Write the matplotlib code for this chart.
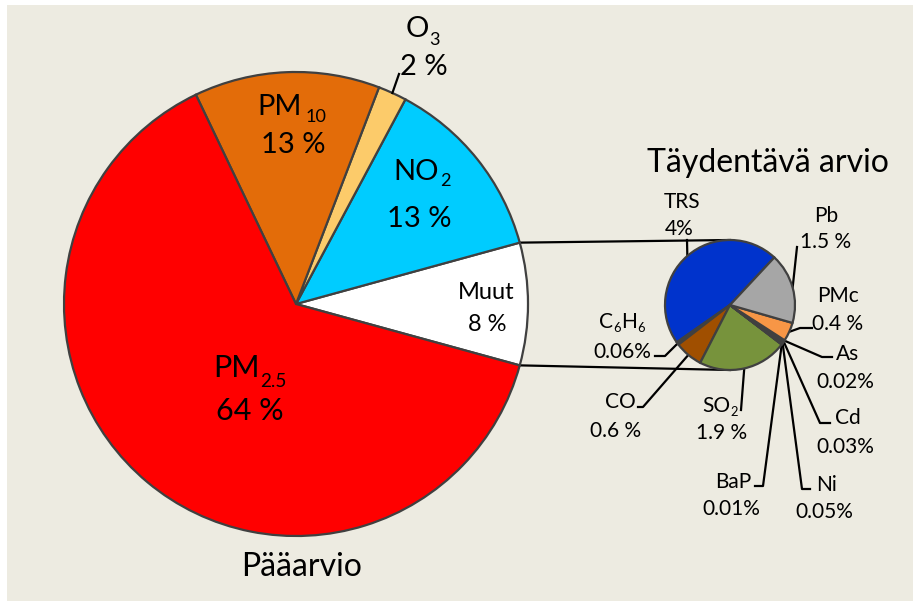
import re
import numpy as np
import matplotlib.pyplot as plt
from matplotlib.patches import Rectangle

plt.rcParams['font.family'] = ['Lato', 'DejaVu Sans']

W, H = 913, 601

# main pie (Pääarvio)
main_names = ['Muut', 'NO_2', 'O_3', 'PM_10', 'PM_2.5']
main_values = [8.57, 13, 2, 13, 64]
main_pct = ['8 %', '13 %', '2 %', '13 %', '64 %']
main_colors = ['#FFFFFF', '#00CCFF', '#FCCB6A', '#E36C09', '#FF0000']

# detail pie (Täydentävä arvio), split of "Muut"
det_names = ['TRS', 'C_6H_6', 'CO', 'SO_2', 'BaP', 'Ni', 'Cd', 'As', 'PMc', 'Pb']
det_values = [4, 0.06, 0.6, 1.9, 0.01, 0.05, 0.03, 0.02, 0.4, 1.5]
det_pct = ['4%', '0.06%', '0.6 %', '1.9 %', '0.01%', '0.05%', '0.03%', '0.02%', '0.4 %', '1.5 %']
det_colors = ['#0033CC', '#404040', '#A04F00', '#77933C', '#404040', '#404040',
              '#404040', '#404040', '#F79646', '#A6A6A6']

edge = '#404040'


def P(x, y):
    # reference pixel coords (y down) -> axes coords (y up)
    return x, H - y


fig = plt.figure(figsize=(W / 100, H / 100), dpi=100, facecolor='white')
fig.patches.append(Rectangle((7 / W, 0), 1, (H - 5) / H, transform=fig.transFigure,
                             facecolor='#EDEBE1', edgecolor='none', zorder=-10))
ax = fig.add_axes([0, 0, 1, 1])
ax.set_facecolor('none')
ax.set_xlim(0, W)
ax.set_ylim(0, H)
rend = fig.canvas.get_renderer()

mc, mr = P(296, 304), 232
dc, dr = P(730, 305), 65

start = -main_values[0] / sum(main_values) * 180
mw, _ = ax.pie(main_values, colors=main_colors, startangle=start, center=mc, radius=mr,
               wedgeprops=dict(edgecolor=edge, linewidth=1.6), frame=True)
dw, _ = ax.pie(det_values, colors=det_colors, startangle=47, center=dc, radius=dr,
               wedgeprops=dict(edgecolor=edge, linewidth=1.6), frame=True)
ax.set_xlim(0, W)
ax.set_ylim(0, H)
ax.set_aspect('auto')


def edge_pt(w, c, r):
    a = np.deg2rad((w.theta1 + w.theta2) / 2)
    return c[0] + r * np.cos(a), c[1] + r * np.sin(a)


def chem_text(x, y, name, fs, drop, gap):
    # name with subscripts written as "_digits", centred on x, baseline y
    parts = re.split(r'_([0-9.]+)', name)
    items = []
    for i, s in enumerate(parts):
        if not s:
            continue
        sub = i % 2 == 1
        t = ax.text(0, 0, s, fontsize=fs * (0.62 if sub else 1), ha='left', va='baseline')
        items.append((t, sub, t.get_window_extent(rend).width))
    total = sum(w for _, _, w in items) + gap * sum(1 for _, s, _ in items if s)
    cx = x - total / 2
    for t, sub, w in items:
        if sub:
            cx += gap
        t.set_position((cx, y - (drop if sub else 0)))
        cx += w


# connector lines between the "Muut" slice and the detail pie
m = mw[0]
for th, yy in [(m.theta2, dc[1] + dr), (m.theta1, dc[1] - dr)]:
    a = np.deg2rad(th)
    ax.plot([mc[0] + mr * np.cos(a), dc[0]], [mc[1] + mr * np.sin(a), yy],
            color='black', lw=1.6, zorder=0)

# main labels: name baseline, value baseline, font size, subscript drop, gap
main_pos = [((486, 299), (487, 331), 17, 0, 0),
            ((422, 180), (419, 227), 21, 6, 0.5),
            ((423, 37), (424, 75), 21, 8, 0.5),
            ((292, 115), (293, 153), 21, 7, 3),
            ((250, 377), (250, 420), 22, 10, 1)]
for nm, pc, (p1, p2, fs, dp, gp) in zip(main_names, main_pct, main_pos):
    chem_text(*P(*p1), nm, fs, dp, gp)
    ax.text(*P(*p2), pc, ha='center', va='baseline', fontsize=fs)

# O3 leader
x0, y0 = edge_pt(mw[2], mc, mr)
ax.plot([x0, P(399, 74)[0]], [y0, P(399, 74)[1]], color='black', lw=1.6)

# detail labels: name baseline, value baseline, leader elbow points
det_pos = [((682, 208), (679, 235), [(687, 240)]),
           ((622, 328), (622, 358), [(665, 356), (655, 356)]),
           ((620, 408), (616, 437), [(643, 407), (638, 407)]),
           ((720, 412), (722, 439), [(741, 410)]),
           ((733, 488), (731, 515), [(763, 486), (755, 486)]),
           ((826, 491), (824, 518), [(802, 489), (810, 489)]),
           ((848, 424), (845, 453), [(820, 423), (830, 423)]),
           ((848, 360), (845, 388), [(822, 357), (832, 357)]),
           ((838, 302), (838, 330), [(800, 328), (812, 328)]),
           ((826, 222), (826, 248), [(797, 247)])]
for w, nm, pc, (p1, p2, pts) in zip(dw, det_names, det_pct, det_pos):
    chem_text(*P(*p1), nm, 15, 4, 0.5)
    ax.text(*P(*p2), pc, ha='center', va='baseline', fontsize=15)
    sx, sy = edge_pt(w, dc, dr)
    xs = [sx] + [P(*p)[0] for p in pts]
    ys = [sy] + [P(*p)[1] for p in pts]
    ax.plot(xs, ys, color='black', lw=1.6, zorder=0.5)

ax.text(*P(302, 576), 'Pääarvio', ha='center', va='baseline', fontsize=23)
ax.text(*P(768, 172), 'Täydentävä arvio', ha='center', va='baseline', fontsize=23)

ax.axis('off')

fig.savefig('out.png', dpi=100, facecolor='white')
